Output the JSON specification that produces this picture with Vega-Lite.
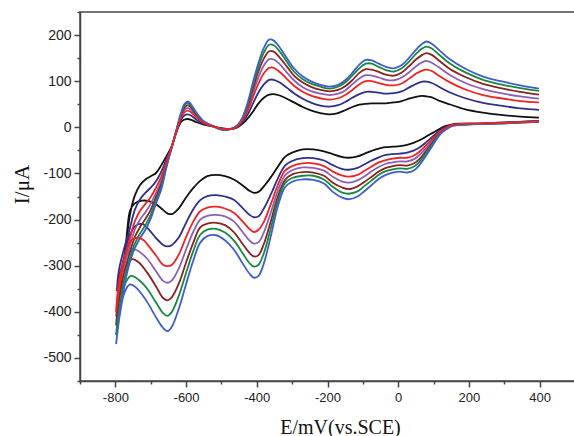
{
"$schema": "https://vega.github.io/schema/vega-lite/v6.json",
"width": 495, "height": 369,
"autosize": {"type": "none"},
"padding": {"left": 80, "top": 12, "right": 0, "bottom": 55},
"background": "white",
"config": {"view": {"stroke": "#4a4a4a", "strokeWidth": 1.5}, "axis": {"grid": false}},
"resolve": {"axis": {"x": "independent", "y": "independent"}},
"layer": [
{
"data": {"values": [
{"curve":"black","E":398,"I":14},{"curve":"black","E":340,"I":12},{"curve":"black","E":280,"I":10},{"curve":"black","E":220,"I":8},{"curve":"black","E":170,"I":8},{"curve":"black","E":150,"I":6},{"curve":"black","E":135,"I":3},{"curve":"black","E":120,"I":-2},{"curve":"black","E":105,"I":-9},{"curve":"black","E":90,"I":-15},{"curve":"black","E":75,"I":-22},{"curve":"black","E":60,"I":-28},{"curve":"black","E":45,"I":-33},{"curve":"black","E":25,"I":-38},{"curve":"black","E":5,"I":-41},{"curve":"black","E":-15,"I":-42},{"curve":"black","E":-35,"I":-43},{"curve":"black","E":-55,"I":-46},{"curve":"black","E":-75,"I":-51},{"curve":"black","E":-95,"I":-57},{"curve":"black","E":-115,"I":-63},{"curve":"black","E":-140,"I":-66},{"curve":"black","E":-160,"I":-64},{"curve":"black","E":-185,"I":-58},{"curve":"black","E":-210,"I":-52},{"curve":"black","E":-240,"I":-48},{"curve":"black","E":-270,"I":-48},{"curve":"black","E":-300,"I":-55},{"curve":"black","E":-320,"I":-64},{"curve":"black","E":-340,"I":-85},{"curve":"black","E":-360,"I":-108},{"curve":"black","E":-380,"I":-128},{"curve":"black","E":-395,"I":-140},{"curve":"black","E":-408,"I":-142},{"curve":"black","E":-420,"I":-138},{"curve":"black","E":-440,"I":-126},{"curve":"black","E":-465,"I":-113},{"curve":"black","E":-490,"I":-106},{"curve":"black","E":-515,"I":-103},{"curve":"black","E":-540,"I":-106},{"curve":"black","E":-560,"I":-116},{"curve":"black","E":-580,"I":-132},{"curve":"black","E":-600,"I":-152},{"curve":"black","E":-620,"I":-175},{"curve":"black","E":-640,"I":-188},{"curve":"black","E":-652,"I":-187},{"curve":"black","E":-665,"I":-179},{"curve":"black","E":-685,"I":-167},{"curve":"black","E":-705,"I":-160},{"curve":"black","E":-725,"I":-159},{"curve":"black","E":-745,"I":-165},{"curve":"black","E":-758,"I":-180},{"curve":"black","E":-766,"I":-220},{"curve":"black","E":-773,"I":-293},
{"curve":"black","E":-773,"I":-293},{"curve":"black","E":-760,"I":-195},{"curve":"black","E":-745,"I":-148},{"curve":"black","E":-730,"I":-125},{"curve":"black","E":-715,"I":-113},{"curve":"black","E":-700,"I":-106},{"curve":"black","E":-685,"I":-99},{"curve":"black","E":-670,"I":-82},{"curve":"black","E":-655,"I":-62},{"curve":"black","E":-640,"I":-40},{"curve":"black","E":-628,"I":-12},{"curve":"black","E":-614,"I":12},{"curve":"black","E":-604,"I":17},{"curve":"black","E":-595,"I":18},{"curve":"black","E":-585,"I":16},{"curve":"black","E":-570,"I":11},{"curve":"black","E":-550,"I":6},{"curve":"black","E":-525,"I":2},{"curve":"black","E":-500,"I":-2},{"curve":"black","E":-475,"I":-4},{"curve":"black","E":-455,"I":0},{"curve":"black","E":-440,"I":8},{"curve":"black","E":-425,"I":20},{"curve":"black","E":-410,"I":35},{"curve":"black","E":-395,"I":52},{"curve":"black","E":-380,"I":64},{"curve":"black","E":-365,"I":71},{"curve":"black","E":-352,"I":72},{"curve":"black","E":-335,"I":69},{"curve":"black","E":-315,"I":62},{"curve":"black","E":-295,"I":54},{"curve":"black","E":-270,"I":44},{"curve":"black","E":-245,"I":36},{"curve":"black","E":-220,"I":31},{"curve":"black","E":-195,"I":28},{"curve":"black","E":-170,"I":31},{"curve":"black","E":-150,"I":37},{"curve":"black","E":-130,"I":44},{"curve":"black","E":-110,"I":49},{"curve":"black","E":-92,"I":51},{"curve":"black","E":-75,"I":52},{"curve":"black","E":-55,"I":52},{"curve":"black","E":-35,"I":52},{"curve":"black","E":-12,"I":54},{"curve":"black","E":10,"I":57},{"curve":"black","E":30,"I":62},{"curve":"black","E":50,"I":66},{"curve":"black","E":68,"I":68},{"curve":"black","E":80,"I":67},{"curve":"black","E":95,"I":65},{"curve":"black","E":115,"I":58},{"curve":"black","E":145,"I":50},{"curve":"black","E":190,"I":39},{"curve":"black","E":240,"I":32},{"curve":"black","E":290,"I":27},{"curve":"black","E":345,"I":23},{"curve":"black","E":398,"I":21},

{"curve":"navy","E":398,"I":13},{"curve":"navy","E":340,"I":11},{"curve":"navy","E":280,"I":9},{"curve":"navy","E":220,"I":8},{"curve":"navy","E":170,"I":7},{"curve":"navy","E":150,"I":5},{"curve":"navy","E":135,"I":1},{"curve":"navy","E":120,"I":-5},{"curve":"navy","E":105,"I":-15},{"curve":"navy","E":90,"I":-25},{"curve":"navy","E":75,"I":-35},{"curve":"navy","E":60,"I":-44},{"curve":"navy","E":45,"I":-50},{"curve":"navy","E":25,"I":-55},{"curve":"navy","E":5,"I":-57},{"curve":"navy","E":-15,"I":-58},{"curve":"navy","E":-35,"I":-60},{"curve":"navy","E":-55,"I":-65},{"curve":"navy","E":-75,"I":-72},{"curve":"navy","E":-95,"I":-80},{"curve":"navy","E":-115,"I":-88},{"curve":"navy","E":-140,"I":-92},{"curve":"navy","E":-160,"I":-90},{"curve":"navy","E":-185,"I":-82},{"curve":"navy","E":-210,"I":-72},{"curve":"navy","E":-240,"I":-67},{"curve":"navy","E":-270,"I":-67},{"curve":"navy","E":-300,"I":-73},{"curve":"navy","E":-320,"I":-83},{"curve":"navy","E":-340,"I":-110},{"curve":"navy","E":-360,"I":-145},{"curve":"navy","E":-380,"I":-176},{"curve":"navy","E":-395,"I":-193},{"curve":"navy","E":-408,"I":-195},{"curve":"navy","E":-420,"I":-190},{"curve":"navy","E":-440,"I":-175},{"curve":"navy","E":-465,"I":-157},{"curve":"navy","E":-490,"I":-150},{"curve":"navy","E":-515,"I":-147},{"curve":"navy","E":-540,"I":-149},{"curve":"navy","E":-560,"I":-158},{"curve":"navy","E":-580,"I":-178},{"curve":"navy","E":-600,"I":-207},{"curve":"navy","E":-620,"I":-238},{"curve":"navy","E":-640,"I":-255},{"curve":"navy","E":-652,"I":-258},{"curve":"navy","E":-665,"I":-255},{"curve":"navy","E":-685,"I":-240},{"curve":"navy","E":-705,"I":-222},{"curve":"navy","E":-722,"I":-210},{"curve":"navy","E":-740,"I":-212},{"curve":"navy","E":-760,"I":-235},{"curve":"navy","E":-775,"I":-280},{"curve":"navy","E":-790,"I":-330},{"curve":"navy","E":-796,"I":-355},
{"curve":"navy","E":-796,"I":-355},{"curve":"navy","E":-790,"I":-310},{"curve":"navy","E":-775,"I":-262},{"curve":"navy","E":-760,"I":-222},{"curve":"navy","E":-745,"I":-179},{"curve":"navy","E":-730,"I":-156},{"curve":"navy","E":-715,"I":-142},{"curve":"navy","E":-700,"I":-131},{"curve":"navy","E":-685,"I":-117},{"curve":"navy","E":-670,"I":-96},{"curve":"navy","E":-655,"I":-68},{"curve":"navy","E":-640,"I":-41},{"curve":"navy","E":-628,"I":-11},{"curve":"navy","E":-614,"I":17},{"curve":"navy","E":-604,"I":26},{"curve":"navy","E":-595,"I":28},{"curve":"navy","E":-585,"I":25},{"curve":"navy","E":-570,"I":16},{"curve":"navy","E":-550,"I":8},{"curve":"navy","E":-525,"I":2},{"curve":"navy","E":-500,"I":-3},{"curve":"navy","E":-475,"I":-4},{"curve":"navy","E":-455,"I":1},{"curve":"navy","E":-440,"I":12},{"curve":"navy","E":-425,"I":29},{"curve":"navy","E":-410,"I":53},{"curve":"navy","E":-395,"I":76},{"curve":"navy","E":-380,"I":93},{"curve":"navy","E":-365,"I":103},{"curve":"navy","E":-352,"I":103},{"curve":"navy","E":-335,"I":97},{"curve":"navy","E":-315,"I":86},{"curve":"navy","E":-295,"I":74},{"curve":"navy","E":-270,"I":62},{"curve":"navy","E":-245,"I":53},{"curve":"navy","E":-220,"I":47},{"curve":"navy","E":-195,"I":45},{"curve":"navy","E":-170,"I":48},{"curve":"navy","E":-150,"I":55},{"curve":"navy","E":-130,"I":64},{"curve":"navy","E":-110,"I":72},{"curve":"navy","E":-92,"I":77},{"curve":"navy","E":-75,"I":77},{"curve":"navy","E":-55,"I":75},{"curve":"navy","E":-35,"I":73},{"curve":"navy","E":-12,"I":74},{"curve":"navy","E":10,"I":78},{"curve":"navy","E":30,"I":86},{"curve":"navy","E":50,"I":94},{"curve":"navy","E":68,"I":99},{"curve":"navy","E":80,"I":99},{"curve":"navy","E":95,"I":96},{"curve":"navy","E":115,"I":88},{"curve":"navy","E":145,"I":76},{"curve":"navy","E":190,"I":63},{"curve":"navy","E":240,"I":53},{"curve":"navy","E":290,"I":47},{"curve":"navy","E":345,"I":41},{"curve":"navy","E":398,"I":38},

{"curve":"purple","E":398,"I":13},{"curve":"purple","E":340,"I":11},{"curve":"purple","E":280,"I":9},{"curve":"purple","E":220,"I":7},{"curve":"purple","E":170,"I":6},{"curve":"purple","E":150,"I":4},{"curve":"purple","E":135,"I":-2},{"curve":"purple","E":120,"I":-9},{"curve":"purple","E":105,"I":-22},{"curve":"purple","E":90,"I":-35},{"curve":"purple","E":75,"I":-48},{"curve":"purple","E":60,"I":-60},{"curve":"purple","E":45,"I":-69},{"curve":"purple","E":25,"I":-74},{"curve":"purple","E":5,"I":-74},{"curve":"purple","E":-15,"I":-76},{"curve":"purple","E":-35,"I":-79},{"curve":"purple","E":-55,"I":-86},{"curve":"purple","E":-75,"I":-95},{"curve":"purple","E":-95,"I":-106},{"curve":"purple","E":-115,"I":-115},{"curve":"purple","E":-140,"I":-120},{"curve":"purple","E":-160,"I":-117},{"curve":"purple","E":-185,"I":-107},{"curve":"purple","E":-210,"I":-94},{"curve":"purple","E":-240,"I":-88},{"curve":"purple","E":-270,"I":-87},{"curve":"purple","E":-300,"I":-93},{"curve":"purple","E":-320,"I":-104},{"curve":"purple","E":-340,"I":-136},{"curve":"purple","E":-360,"I":-184},{"curve":"purple","E":-380,"I":-228},{"curve":"purple","E":-395,"I":-249},{"curve":"purple","E":-408,"I":-252},{"curve":"purple","E":-420,"I":-246},{"curve":"purple","E":-440,"I":-227},{"curve":"purple","E":-465,"I":-204},{"curve":"purple","E":-490,"I":-193},{"curve":"purple","E":-515,"I":-190},{"curve":"purple","E":-540,"I":-192},{"curve":"purple","E":-560,"I":-200},{"curve":"purple","E":-580,"I":-227},{"curve":"purple","E":-600,"I":-265},{"curve":"purple","E":-620,"I":-305},{"curve":"purple","E":-640,"I":-332},{"curve":"purple","E":-652,"I":-337},{"curve":"purple","E":-665,"I":-333},{"curve":"purple","E":-685,"I":-312},{"curve":"purple","E":-710,"I":-285},{"curve":"purple","E":-735,"I":-268},{"curve":"purple","E":-750,"I":-265},{"curve":"purple","E":-765,"I":-275},{"curve":"purple","E":-780,"I":-310},{"curve":"purple","E":-790,"I":-350},{"curve":"purple","E":-798,"I":-410},
{"curve":"purple","E":-798,"I":-410},{"curve":"purple","E":-790,"I":-360},{"curve":"purple","E":-775,"I":-300},{"curve":"purple","E":-760,"I":-260},{"curve":"purple","E":-745,"I":-222},{"curve":"purple","E":-730,"I":-200},{"curve":"purple","E":-715,"I":-184},{"curve":"purple","E":-700,"I":-166},{"curve":"purple","E":-685,"I":-142},{"curve":"purple","E":-670,"I":-116},{"curve":"purple","E":-655,"I":-77},{"curve":"purple","E":-640,"I":-41},{"curve":"purple","E":-628,"I":-9},{"curve":"purple","E":-614,"I":24},{"curve":"purple","E":-604,"I":38},{"curve":"purple","E":-595,"I":42},{"curve":"purple","E":-585,"I":37},{"curve":"purple","E":-570,"I":24},{"curve":"purple","E":-550,"I":11},{"curve":"purple","E":-525,"I":3},{"curve":"purple","E":-500,"I":-4},{"curve":"purple","E":-475,"I":-4},{"curve":"purple","E":-455,"I":3},{"curve":"purple","E":-440,"I":17},{"curve":"purple","E":-425,"I":43},{"curve":"purple","E":-410,"I":77},{"curve":"purple","E":-395,"I":109},{"curve":"purple","E":-380,"I":134},{"curve":"purple","E":-365,"I":148},{"curve":"purple","E":-352,"I":147},{"curve":"purple","E":-335,"I":137},{"curve":"purple","E":-315,"I":119},{"curve":"purple","E":-295,"I":102},{"curve":"purple","E":-270,"I":87},{"curve":"purple","E":-245,"I":78},{"curve":"purple","E":-220,"I":73},{"curve":"purple","E":-195,"I":70},{"curve":"purple","E":-170,"I":73},{"curve":"purple","E":-150,"I":80},{"curve":"purple","E":-130,"I":93},{"curve":"purple","E":-110,"I":106},{"curve":"purple","E":-92,"I":113},{"curve":"purple","E":-75,"I":112},{"curve":"purple","E":-55,"I":108},{"curve":"purple","E":-35,"I":103},{"curve":"purple","E":-12,"I":102},{"curve":"purple","E":10,"I":108},{"curve":"purple","E":30,"I":119},{"curve":"purple","E":50,"I":132},{"curve":"purple","E":68,"I":141},{"curve":"purple","E":80,"I":144},{"curve":"purple","E":95,"I":140},{"curve":"purple","E":115,"I":130},{"curve":"purple","E":145,"I":114},{"curve":"purple","E":190,"I":96},{"curve":"purple","E":240,"I":83},{"curve":"purple","E":290,"I":74},{"curve":"purple","E":345,"I":67},{"curve":"purple","E":398,"I":62},

{"curve":"brown","E":398,"I":12},{"curve":"brown","E":340,"I":11},{"curve":"brown","E":280,"I":9},{"curve":"brown","E":220,"I":7},{"curve":"brown","E":170,"I":6},{"curve":"brown","E":150,"I":3},{"curve":"brown","E":135,"I":-3},{"curve":"brown","E":120,"I":-11},{"curve":"brown","E":105,"I":-25},{"curve":"brown","E":90,"I":-40},{"curve":"brown","E":75,"I":-55},{"curve":"brown","E":60,"I":-69},{"curve":"brown","E":45,"I":-78},{"curve":"brown","E":25,"I":-83},{"curve":"brown","E":5,"I":-82},{"curve":"brown","E":-15,"I":-84},{"curve":"brown","E":-35,"I":-88},{"curve":"brown","E":-55,"I":-96},{"curve":"brown","E":-75,"I":-107},{"curve":"brown","E":-95,"I":-118},{"curve":"brown","E":-115,"I":-128},{"curve":"brown","E":-140,"I":-134},{"curve":"brown","E":-160,"I":-130},{"curve":"brown","E":-185,"I":-120},{"curve":"brown","E":-210,"I":-105},{"curve":"brown","E":-240,"I":-98},{"curve":"brown","E":-270,"I":-97},{"curve":"brown","E":-300,"I":-102},{"curve":"brown","E":-320,"I":-114},{"curve":"brown","E":-340,"I":-149},{"curve":"brown","E":-360,"I":-203},{"curve":"brown","E":-380,"I":-253},{"curve":"brown","E":-395,"I":-277},{"curve":"brown","E":-408,"I":-280},{"curve":"brown","E":-420,"I":-273},{"curve":"brown","E":-440,"I":-253},{"curve":"brown","E":-465,"I":-227},{"curve":"brown","E":-490,"I":-212},{"curve":"brown","E":-515,"I":-207},{"curve":"brown","E":-540,"I":-209},{"curve":"brown","E":-560,"I":-217},{"curve":"brown","E":-580,"I":-251},{"curve":"brown","E":-600,"I":-293},{"curve":"brown","E":-620,"I":-338},{"curve":"brown","E":-640,"I":-368},{"curve":"brown","E":-652,"I":-375},{"curve":"brown","E":-665,"I":-370},{"curve":"brown","E":-685,"I":-345},{"curve":"brown","E":-710,"I":-315},{"curve":"brown","E":-735,"I":-292},{"curve":"brown","E":-752,"I":-286},{"curve":"brown","E":-765,"I":-295},{"curve":"brown","E":-780,"I":-330},{"curve":"brown","E":-790,"I":-370},{"curve":"brown","E":-798,"I":-430},
{"curve":"brown","E":-798,"I":-430},{"curve":"brown","E":-790,"I":-380},{"curve":"brown","E":-775,"I":-315},{"curve":"brown","E":-760,"I":-274},{"curve":"brown","E":-745,"I":-238},{"curve":"brown","E":-730,"I":-216},{"curve":"brown","E":-715,"I":-199},{"curve":"brown","E":-700,"I":-179},{"curve":"brown","E":-685,"I":-151},{"curve":"brown","E":-670,"I":-123},{"curve":"brown","E":-655,"I":-80},{"curve":"brown","E":-640,"I":-42},{"curve":"brown","E":-628,"I":-9},{"curve":"brown","E":-614,"I":27},{"curve":"brown","E":-604,"I":43},{"curve":"brown","E":-595,"I":48},{"curve":"brown","E":-585,"I":42},{"curve":"brown","E":-570,"I":27},{"curve":"brown","E":-550,"I":12},{"curve":"brown","E":-525,"I":3},{"curve":"brown","E":-500,"I":-4},{"curve":"brown","E":-475,"I":-4},{"curve":"brown","E":-455,"I":3},{"curve":"brown","E":-440,"I":19},{"curve":"brown","E":-425,"I":48},{"curve":"brown","E":-410,"I":86},{"curve":"brown","E":-395,"I":122},{"curve":"brown","E":-380,"I":149},{"curve":"brown","E":-365,"I":165},{"curve":"brown","E":-352,"I":164},{"curve":"brown","E":-335,"I":151},{"curve":"brown","E":-315,"I":132},{"curve":"brown","E":-295,"I":112},{"curve":"brown","E":-270,"I":97},{"curve":"brown","E":-245,"I":87},{"curve":"brown","E":-220,"I":81},{"curve":"brown","E":-195,"I":78},{"curve":"brown","E":-170,"I":81},{"curve":"brown","E":-150,"I":89},{"curve":"brown","E":-130,"I":102},{"curve":"brown","E":-110,"I":118},{"curve":"brown","E":-92,"I":126},{"curve":"brown","E":-75,"I":125},{"curve":"brown","E":-55,"I":120},{"curve":"brown","E":-35,"I":114},{"curve":"brown","E":-12,"I":112},{"curve":"brown","E":10,"I":119},{"curve":"brown","E":30,"I":132},{"curve":"brown","E":50,"I":147},{"curve":"brown","E":68,"I":157},{"curve":"brown","E":80,"I":161},{"curve":"brown","E":95,"I":157},{"curve":"brown","E":115,"I":145},{"curve":"brown","E":145,"I":127},{"curve":"brown","E":190,"I":109},{"curve":"brown","E":240,"I":94},{"curve":"brown","E":290,"I":85},{"curve":"brown","E":345,"I":77},{"curve":"brown","E":398,"I":71},

{"curve":"green","E":398,"I":12},{"curve":"green","E":340,"I":10},{"curve":"green","E":280,"I":8},{"curve":"green","E":220,"I":7},{"curve":"green","E":170,"I":5},{"curve":"green","E":150,"I":3},{"curve":"green","E":135,"I":-4},{"curve":"green","E":120,"I":-12},{"curve":"green","E":105,"I":-27},{"curve":"green","E":90,"I":-44},{"curve":"green","E":75,"I":-60},{"curve":"green","E":60,"I":-75},{"curve":"green","E":45,"I":-85},{"curve":"green","E":25,"I":-90},{"curve":"green","E":5,"I":-89},{"curve":"green","E":-15,"I":-91},{"curve":"green","E":-35,"I":-95},{"curve":"green","E":-55,"I":-103},{"curve":"green","E":-75,"I":-115},{"curve":"green","E":-95,"I":-127},{"curve":"green","E":-115,"I":-139},{"curve":"green","E":-140,"I":-144},{"curve":"green","E":-160,"I":-141},{"curve":"green","E":-185,"I":-129},{"curve":"green","E":-210,"I":-113},{"curve":"green","E":-240,"I":-105},{"curve":"green","E":-270,"I":-105},{"curve":"green","E":-300,"I":-110},{"curve":"green","E":-320,"I":-121},{"curve":"green","E":-340,"I":-159},{"curve":"green","E":-360,"I":-218},{"curve":"green","E":-380,"I":-273},{"curve":"green","E":-395,"I":-298},{"curve":"green","E":-408,"I":-302},{"curve":"green","E":-420,"I":-295},{"curve":"green","E":-440,"I":-273},{"curve":"green","E":-465,"I":-245},{"curve":"green","E":-490,"I":-228},{"curve":"green","E":-515,"I":-220},{"curve":"green","E":-540,"I":-222},{"curve":"green","E":-560,"I":-233},{"curve":"green","E":-580,"I":-269},{"curve":"green","E":-600,"I":-316},{"curve":"green","E":-620,"I":-364},{"curve":"green","E":-640,"I":-400},{"curve":"green","E":-652,"I":-409},{"curve":"green","E":-665,"I":-403},{"curve":"green","E":-685,"I":-380},{"curve":"green","E":-710,"I":-350},{"curve":"green","E":-735,"I":-330},{"curve":"green","E":-755,"I":-322},{"curve":"green","E":-770,"I":-335},{"curve":"green","E":-782,"I":-370},{"curve":"green","E":-792,"I":-410},{"curve":"green","E":-798,"I":-450},
{"curve":"green","E":-798,"I":-450},{"curve":"green","E":-790,"I":-400},{"curve":"green","E":-775,"I":-330},{"curve":"green","E":-760,"I":-286},{"curve":"green","E":-745,"I":-252},{"curve":"green","E":-730,"I":-230},{"curve":"green","E":-715,"I":-212},{"curve":"green","E":-700,"I":-190},{"curve":"green","E":-685,"I":-159},{"curve":"green","E":-670,"I":-129},{"curve":"green","E":-655,"I":-83},{"curve":"green","E":-640,"I":-42},{"curve":"green","E":-628,"I":-8},{"curve":"green","E":-614,"I":30},{"curve":"green","E":-604,"I":48},{"curve":"green","E":-595,"I":53},{"curve":"green","E":-585,"I":46},{"curve":"green","E":-570,"I":29},{"curve":"green","E":-550,"I":12},{"curve":"green","E":-525,"I":3},{"curve":"green","E":-500,"I":-5},{"curve":"green","E":-475,"I":-4},{"curve":"green","E":-455,"I":4},{"curve":"green","E":-440,"I":21},{"curve":"green","E":-425,"I":52},{"curve":"green","E":-410,"I":94},{"curve":"green","E":-395,"I":132},{"curve":"green","E":-380,"I":162},{"curve":"green","E":-365,"I":179},{"curve":"green","E":-352,"I":178},{"curve":"green","E":-335,"I":164},{"curve":"green","E":-315,"I":142},{"curve":"green","E":-295,"I":121},{"curve":"green","E":-270,"I":104},{"curve":"green","E":-245,"I":94},{"curve":"green","E":-220,"I":88},{"curve":"green","E":-195,"I":84},{"curve":"green","E":-170,"I":88},{"curve":"green","E":-150,"I":97},{"curve":"green","E":-130,"I":112},{"curve":"green","E":-110,"I":128},{"curve":"green","E":-92,"I":138},{"curve":"green","E":-75,"I":138},{"curve":"green","E":-55,"I":131},{"curve":"green","E":-35,"I":124},{"curve":"green","E":-12,"I":121},{"curve":"green","E":10,"I":128},{"curve":"green","E":30,"I":142},{"curve":"green","E":50,"I":159},{"curve":"green","E":68,"I":171},{"curve":"green","E":80,"I":175},{"curve":"green","E":95,"I":171},{"curve":"green","E":115,"I":158},{"curve":"green","E":145,"I":139},{"curve":"green","E":190,"I":119},{"curve":"green","E":240,"I":103},{"curve":"green","E":290,"I":93},{"curve":"green","E":345,"I":85},{"curve":"green","E":398,"I":79},

{"curve":"blue","E":398,"I":12},{"curve":"blue","E":340,"I":10},{"curve":"blue","E":280,"I":8},{"curve":"blue","E":220,"I":7},{"curve":"blue","E":170,"I":5},{"curve":"blue","E":150,"I":2},{"curve":"blue","E":135,"I":-5},{"curve":"blue","E":120,"I":-14},{"curve":"blue","E":105,"I":-30},{"curve":"blue","E":90,"I":-48},{"curve":"blue","E":75,"I":-66},{"curve":"blue","E":60,"I":-82},{"curve":"blue","E":45,"I":-93},{"curve":"blue","E":25,"I":-98},{"curve":"blue","E":5,"I":-96},{"curve":"blue","E":-15,"I":-98},{"curve":"blue","E":-35,"I":-103},{"curve":"blue","E":-55,"I":-112},{"curve":"blue","E":-75,"I":-125},{"curve":"blue","E":-95,"I":-138},{"curve":"blue","E":-115,"I":-150},{"curve":"blue","E":-140,"I":-156},{"curve":"blue","E":-160,"I":-152},{"curve":"blue","E":-185,"I":-140},{"curve":"blue","E":-210,"I":-122},{"curve":"blue","E":-240,"I":-114},{"curve":"blue","E":-270,"I":-113},{"curve":"blue","E":-300,"I":-118},{"curve":"blue","E":-320,"I":-130},{"curve":"blue","E":-340,"I":-170},{"curve":"blue","E":-360,"I":-235},{"curve":"blue","E":-380,"I":-295},{"curve":"blue","E":-395,"I":-322},{"curve":"blue","E":-408,"I":-326},{"curve":"blue","E":-420,"I":-318},{"curve":"blue","E":-440,"I":-295},{"curve":"blue","E":-465,"I":-265},{"curve":"blue","E":-490,"I":-245},{"curve":"blue","E":-515,"I":-234},{"curve":"blue","E":-540,"I":-236},{"curve":"blue","E":-560,"I":-250},{"curve":"blue","E":-580,"I":-290},{"curve":"blue","E":-600,"I":-340},{"curve":"blue","E":-620,"I":-392},{"curve":"blue","E":-640,"I":-432},{"curve":"blue","E":-652,"I":-442},{"curve":"blue","E":-665,"I":-435},{"curve":"blue","E":-685,"I":-412},{"curve":"blue","E":-705,"I":-385},{"curve":"blue","E":-725,"I":-362},{"curve":"blue","E":-745,"I":-345},{"curve":"blue","E":-760,"I":-341},{"curve":"blue","E":-775,"I":-360},{"curve":"blue","E":-788,"I":-410},{"curve":"blue","E":-798,"I":-470},
{"curve":"blue","E":-798,"I":-470},{"curve":"blue","E":-790,"I":-420},{"curve":"blue","E":-775,"I":-345},{"curve":"blue","E":-760,"I":-295},{"curve":"blue","E":-745,"I":-262},{"curve":"blue","E":-730,"I":-240},{"curve":"blue","E":-715,"I":-222},{"curve":"blue","E":-700,"I":-198},{"curve":"blue","E":-685,"I":-165},{"curve":"blue","E":-670,"I":-134},{"curve":"blue","E":-655,"I":-85},{"curve":"blue","E":-640,"I":-42},{"curve":"blue","E":-628,"I":-8},{"curve":"blue","E":-614,"I":32},{"curve":"blue","E":-604,"I":51},{"curve":"blue","E":-595,"I":56},{"curve":"blue","E":-585,"I":49},{"curve":"blue","E":-570,"I":31},{"curve":"blue","E":-550,"I":13},{"curve":"blue","E":-525,"I":3},{"curve":"blue","E":-500,"I":-5},{"curve":"blue","E":-475,"I":-4},{"curve":"blue","E":-455,"I":4},{"curve":"blue","E":-440,"I":22},{"curve":"blue","E":-425,"I":55},{"curve":"blue","E":-410,"I":100},{"curve":"blue","E":-395,"I":140},{"curve":"blue","E":-380,"I":172},{"curve":"blue","E":-365,"I":190},{"curve":"blue","E":-352,"I":188},{"curve":"blue","E":-335,"I":173},{"curve":"blue","E":-315,"I":150},{"curve":"blue","E":-295,"I":128},{"curve":"blue","E":-270,"I":110},{"curve":"blue","E":-245,"I":99},{"curve":"blue","E":-220,"I":92},{"curve":"blue","E":-195,"I":88},{"curve":"blue","E":-170,"I":92},{"curve":"blue","E":-150,"I":102},{"curve":"blue","E":-130,"I":118},{"curve":"blue","E":-110,"I":136},{"curve":"blue","E":-92,"I":146},{"curve":"blue","E":-75,"I":145},{"curve":"blue","E":-55,"I":138},{"curve":"blue","E":-35,"I":131},{"curve":"blue","E":-12,"I":128},{"curve":"blue","E":10,"I":135},{"curve":"blue","E":30,"I":150},{"curve":"blue","E":50,"I":168},{"curve":"blue","E":68,"I":181},{"curve":"blue","E":80,"I":186},{"curve":"blue","E":95,"I":181},{"curve":"blue","E":115,"I":168},{"curve":"blue","E":145,"I":148},{"curve":"blue","E":190,"I":127},{"curve":"blue","E":240,"I":110},{"curve":"blue","E":290,"I":100},{"curve":"blue","E":345,"I":91},{"curve":"blue","E":398,"I":84},

{"curve":"red","E":398,"I":13},{"curve":"red","E":340,"I":11},{"curve":"red","E":280,"I":9},{"curve":"red","E":220,"I":8},{"curve":"red","E":170,"I":7},{"curve":"red","E":150,"I":4},{"curve":"red","E":135,"I":-1},{"curve":"red","E":120,"I":-8},{"curve":"red","E":105,"I":-19},{"curve":"red","E":90,"I":-30},{"curve":"red","E":75,"I":-42},{"curve":"red","E":60,"I":-53},{"curve":"red","E":45,"I":-61},{"curve":"red","E":25,"I":-66},{"curve":"red","E":5,"I":-66},{"curve":"red","E":-15,"I":-68},{"curve":"red","E":-35,"I":-71},{"curve":"red","E":-55,"I":-76},{"curve":"red","E":-75,"I":-85},{"curve":"red","E":-95,"I":-94},{"curve":"red","E":-115,"I":-103},{"curve":"red","E":-140,"I":-107},{"curve":"red","E":-160,"I":-104},{"curve":"red","E":-185,"I":-96},{"curve":"red","E":-210,"I":-84},{"curve":"red","E":-240,"I":-78},{"curve":"red","E":-270,"I":-78},{"curve":"red","E":-300,"I":-84},{"curve":"red","E":-320,"I":-94},{"curve":"red","E":-340,"I":-124},{"curve":"red","E":-360,"I":-166},{"curve":"red","E":-380,"I":-205},{"curve":"red","E":-395,"I":-222},{"curve":"red","E":-408,"I":-227},{"curve":"red","E":-420,"I":-221},{"curve":"red","E":-440,"I":-204},{"curve":"red","E":-465,"I":-185},{"curve":"red","E":-490,"I":-176},{"curve":"red","E":-515,"I":-172},{"curve":"red","E":-540,"I":-174},{"curve":"red","E":-560,"I":-182},{"curve":"red","E":-580,"I":-205},{"curve":"red","E":-600,"I":-238},{"curve":"red","E":-620,"I":-275},{"curve":"red","E":-640,"I":-298},{"curve":"red","E":-652,"I":-301},{"curve":"red","E":-665,"I":-298},{"curve":"red","E":-685,"I":-278},{"curve":"red","E":-705,"I":-258},{"curve":"red","E":-720,"I":-245},{"curve":"red","E":-736,"I":-239},{"curve":"red","E":-755,"I":-245},{"curve":"red","E":-770,"I":-275},{"curve":"red","E":-785,"I":-330},{"curve":"red","E":-798,"I":-400},
{"curve":"red","E":-798,"I":-400},{"curve":"red","E":-790,"I":-335},{"curve":"red","E":-775,"I":-285},{"curve":"red","E":-760,"I":-244},{"curve":"red","E":-745,"I":-204},{"curve":"red","E":-730,"I":-181},{"curve":"red","E":-715,"I":-166},{"curve":"red","E":-700,"I":-151},{"curve":"red","E":-685,"I":-131},{"curve":"red","E":-670,"I":-107},{"curve":"red","E":-655,"I":-73},{"curve":"red","E":-640,"I":-41},{"curve":"red","E":-628,"I":-10},{"curve":"red","E":-614,"I":21},{"curve":"red","E":-604,"I":33},{"curve":"red","E":-595,"I":36},{"curve":"red","E":-585,"I":32},{"curve":"red","E":-570,"I":21},{"curve":"red","E":-550,"I":9},{"curve":"red","E":-525,"I":2},{"curve":"red","E":-500,"I":-3},{"curve":"red","E":-475,"I":-4},{"curve":"red","E":-455,"I":2},{"curve":"red","E":-440,"I":15},{"curve":"red","E":-425,"I":37},{"curve":"red","E":-410,"I":67},{"curve":"red","E":-395,"I":95},{"curve":"red","E":-380,"I":117},{"curve":"red","E":-365,"I":129},{"curve":"red","E":-352,"I":129},{"curve":"red","E":-335,"I":120},{"curve":"red","E":-315,"I":105},{"curve":"red","E":-295,"I":90},{"curve":"red","E":-270,"I":77},{"curve":"red","E":-245,"I":68},{"curve":"red","E":-220,"I":63},{"curve":"red","E":-195,"I":60},{"curve":"red","E":-170,"I":63},{"curve":"red","E":-150,"I":70},{"curve":"red","E":-130,"I":81},{"curve":"red","E":-110,"I":93},{"curve":"red","E":-92,"I":100},{"curve":"red","E":-75,"I":100},{"curve":"red","E":-55,"I":96},{"curve":"red","E":-35,"I":92},{"curve":"red","E":-12,"I":91},{"curve":"red","E":10,"I":95},{"curve":"red","E":30,"I":105},{"curve":"red","E":50,"I":116},{"curve":"red","E":68,"I":123},{"curve":"red","E":80,"I":125},{"curve":"red","E":95,"I":122},{"curve":"red","E":115,"I":112},{"curve":"red","E":145,"I":98},{"curve":"red","E":190,"I":82},{"curve":"red","E":240,"I":70},{"curve":"red","E":290,"I":63},{"curve":"red","E":345,"I":57},{"curve":"red","E":398,"I":54}
]},
"mark": {"type": "line", "interpolate": "catmull-rom", "strokeWidth": 1.8},
"encoding": {
"x": {"field": "E", "type": "quantitative", "scale": {"domain": [-900, 500], "nice": false, "zero": false},
 "axis": {"orient": "bottom", "values": [-800, -600, -400, -200, 0, 200, 400], "labelExpr": "toString(datum.value)", "title": "E/mV(vs.SCE)",
  "domainColor": "#444", "domainWidth": 1.5, "tickColor": "#444", "tickWidth": 1.5, "tickSize": 6,
  "labelFont": "Liberation Sans", "labelFontSize": 13, "labelColor": "#222", "labelPadding": 4, "labelFlush": false,
  "titleFont": "Liberation Serif", "titleFontSize": 20, "titleFontWeight": "normal", "titleColor": "#111",
  "titleX": 260, "titleY": 52, "titleBaseline": "alphabetic", "titleAlign": "center"}},
"y": {"field": "I", "type": "quantitative", "scale": {"domain": [-550, 250], "nice": false, "zero": false},
 "axis": {"orient": "left", "values": [-500, -400, -300, -200, -100, 0, 100, 200], "labelExpr": "toString(datum.value)", "title": "I/μA",
  "domainColor": "#444", "domainWidth": 1.5, "tickColor": "#444", "tickWidth": 1.5, "tickSize": 6,
  "labelFont": "Liberation Sans", "labelFontSize": 14, "labelColor": "#222", "labelPadding": 3, "labelFlush": false,
  "titleFont": "Liberation Serif", "titleFontSize": 21, "titleFontWeight": "normal", "titleColor": "#111",
  "titleX": -48, "titleY": 172, "titleAngle": -90, "titleBaseline": "bottom", "titleAlign": "center"}},
"color": {"field": "curve", "type": "nominal",
 "scale": {"domain": ["black", "navy", "purple", "brown", "green", "blue", "red"],
  "range": ["#111111", "#2d2f8c", "#8c5fb5", "#8b2222", "#17893f", "#3d5fcc", "#ee2424"]},
 "legend": null},
"order": {"value": null}
}
},
{
"data": {"values": [{}]},
"mark": {"type": "point", "opacity": 0},
"encoding": {
"x": {"datum": 0, "type": "quantitative",
 "axis": {"orient": "bottom", "values": [-900, -700, -500, -300, -100, 100, 300, 500], "labels": false, "title": null,
  "domain": false, "tickColor": "#444", "tickWidth": 1.5, "tickSize": 3}},
"y": {"datum": 0, "type": "quantitative",
 "axis": {"orient": "left", "values": [-550, -450, -350, -250, -150, -50, 50, 150, 250], "labels": false, "title": null,
  "domain": false, "tickColor": "#444", "tickWidth": 1.5, "tickSize": 3}}
}
}
]
}
